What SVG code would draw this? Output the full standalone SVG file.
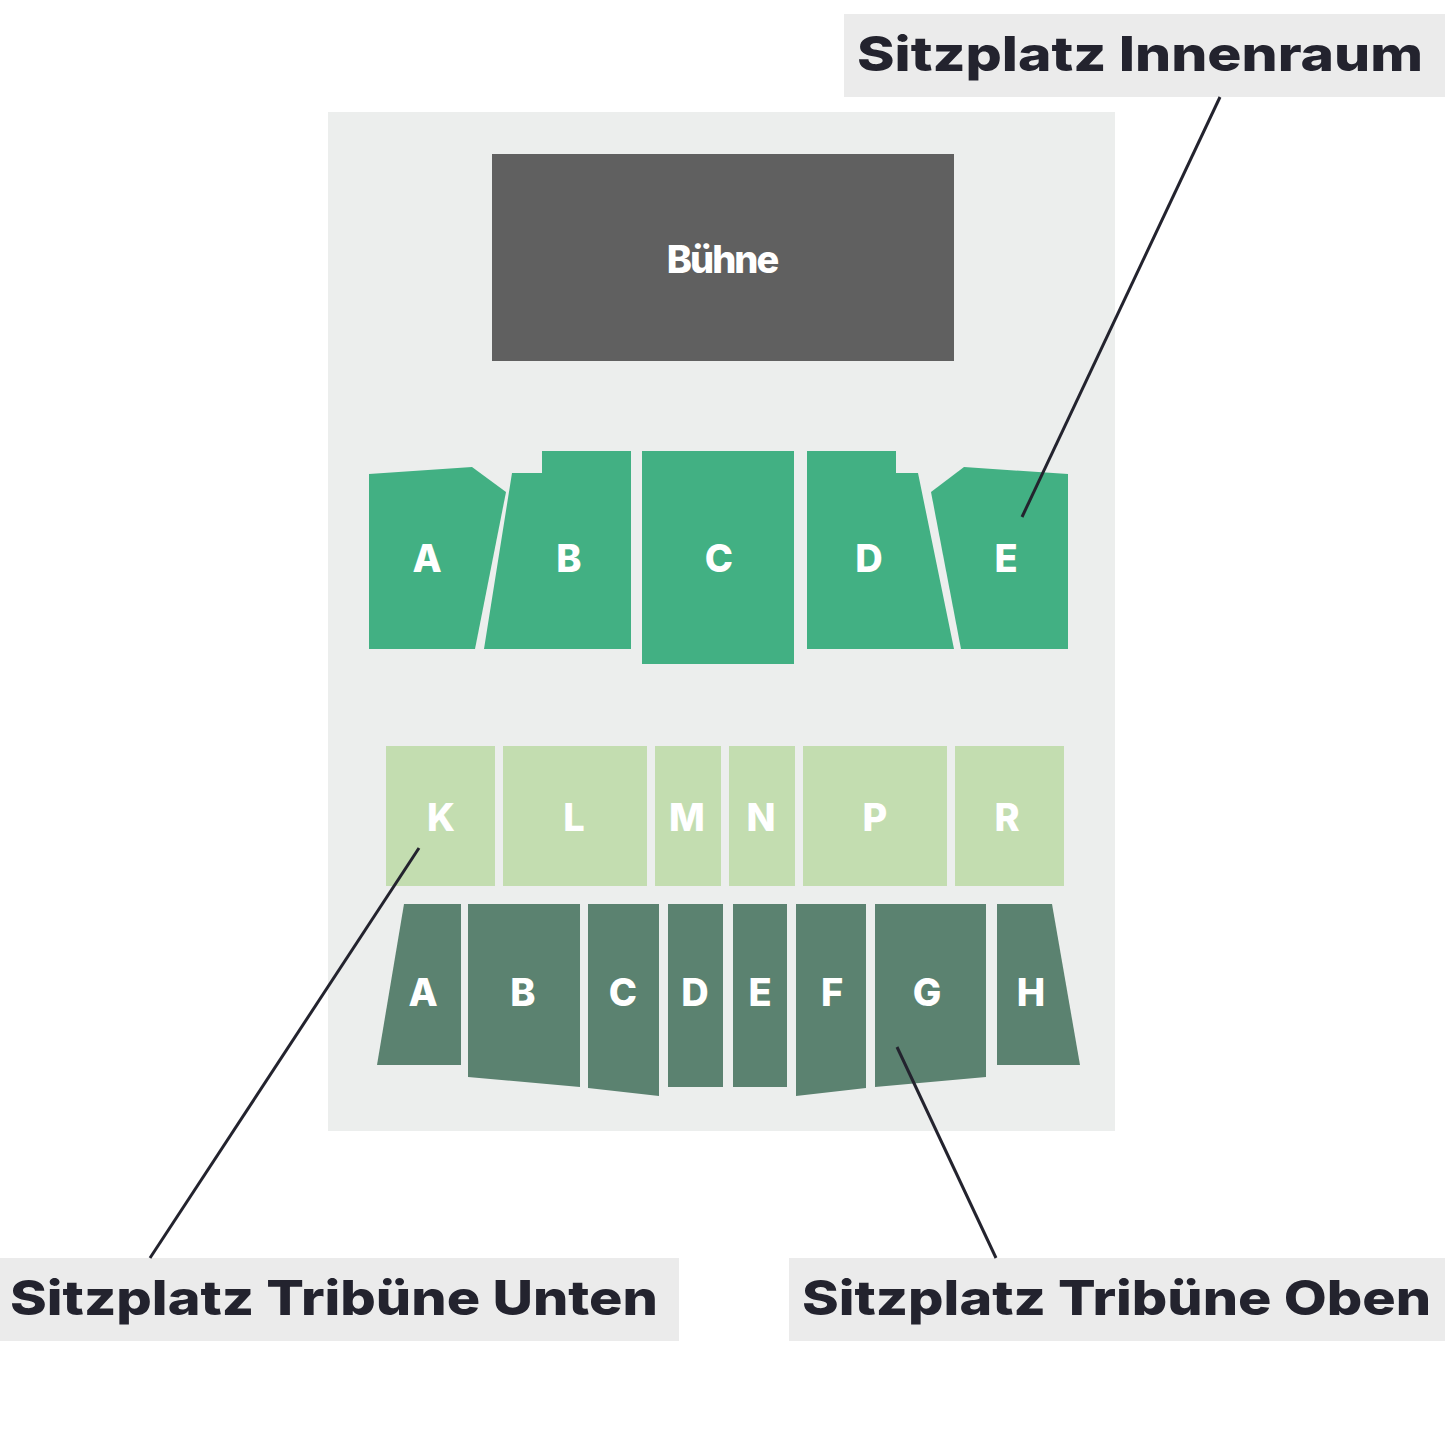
<svg xmlns="http://www.w3.org/2000/svg" width="1445" height="1445" viewBox="0 0 1445 1445">
<style>
.t{fill:#42b083}.m{fill:#c3ddb0}.l{fill:#5b8270}
.s{font-family:Inter,"Liberation Sans",sans-serif;font-weight:800;fill:#fff;font-size:38px;text-anchor:middle}
.lb{font-family:Inter,"Liberation Sans",sans-serif;font-weight:800;fill:#23232e;font-size:48px}
.box{fill:#ebebeb}
.c{stroke:#23232e;stroke-width:3;fill:none}
</style>
<rect x="0" y="0" width="1445" height="1445" fill="#fff"/>
<rect x="328" y="112" width="787" height="1019" fill="#eceeed"/>
<g id="stage"><rect x="492" y="154" width="462" height="207" fill="#606060"/><text x="722" y="273" class="s" font-size="52" letter-spacing="-2">Bühne</text></g>
<g id="innen">
<g id="iA"><polygon class="t" points="369,474 472,467 506,492 475,649 369,649"/><text class="s" x="427" y="572">A</text></g>
<g id="iB"><polygon class="t" points="484,649 512,473 542,473 542,451 631,451 631,649"/><text class="s" x="569" y="572">B</text></g>
<g id="iC"><rect class="t" x="642" y="451" width="152" height="213"/><text class="s" x="719" y="572">C</text></g>
<g id="iD"><polygon class="t" points="807,451 896,451 896,473 918,473 954,649 807,649"/><text class="s" x="869" y="572">D</text></g>
<g id="iE"><polygon class="t" points="931,492 964,467 1068,474 1068,649 961,649"/><text class="s" x="1006" y="572">E</text></g>
</g>
<g id="unten">
<g id="uK"><rect class="m" x="386" y="746" width="109" height="140"/><text class="s" x="441" y="831">K</text></g>
<g id="uL"><rect class="m" x="503" y="746" width="144" height="140"/><text class="s" x="574" y="831">L</text></g>
<g id="uM"><rect class="m" x="655" y="746" width="66" height="140"/><text class="s" x="687" y="831">M</text></g>
<g id="uN"><rect class="m" x="729" y="746" width="66" height="140"/><text class="s" x="761" y="831">N</text></g>
<g id="uP"><rect class="m" x="803" y="746" width="144" height="140"/><text class="s" x="875" y="831">P</text></g>
<g id="uR"><rect class="m" x="955" y="746" width="109" height="140"/><text class="s" x="1007" y="831">R</text></g>
</g>
<g id="oben">
<g id="oA"><polygon class="l" points="404,904 461,904 461,1065 377,1065"/><text class="s" x="423" y="1006">A</text></g>
<g id="oB"><polygon class="l" points="468,904 580,904 580,1087 468,1077"/><text class="s" x="523" y="1006">B</text></g>
<g id="oC"><polygon class="l" points="588,904 659,904 659,1096 588,1088"/><text class="s" x="623" y="1006">C</text></g>
<g id="oD"><rect class="l" x="668" y="904" width="55" height="183"/><text class="s" x="695" y="1006">D</text></g>
<g id="oE"><rect class="l" x="733" y="904" width="54" height="183"/><text class="s" x="760" y="1006">E</text></g>
<g id="oF"><polygon class="l" points="796,904 866,904 866,1088 796,1096"/><text class="s" x="832" y="1006">F</text></g>
<g id="oG"><polygon class="l" points="875,904 986,904 986,1077 875,1087"/><text class="s" x="927" y="1006">G</text></g>
<g id="oH"><polygon class="l" points="997,904 1052,904 1080,1065 997,1065"/><text class="s" x="1031" y="1006">H</text></g>
</g>
<g id="labels">
<g id="lInnen"><rect class="box" x="844" y="14" width="601" height="83"/><text class="lb" x="857" y="71" textLength="566" lengthAdjust="spacingAndGlyphs">Sitzplatz Innenraum</text></g>
<g id="lUnten"><rect class="box" x="0" y="1258" width="679" height="83"/><text class="lb" x="10" y="1315" textLength="648" lengthAdjust="spacingAndGlyphs">Sitzplatz Tribüne Unten</text></g>
<g id="lOben"><rect class="box" x="789" y="1258" width="656" height="83"/><text class="lb" x="802" y="1315" textLength="629" lengthAdjust="spacingAndGlyphs">Sitzplatz Tribüne Oben</text></g>
</g>
<g id="connectors">
<line class="c" x1="1220" y1="97" x2="1022" y2="517"/>
<line class="c" x1="150" y1="1258" x2="419" y2="848"/>
<line class="c" x1="996" y1="1258" x2="897" y2="1047"/>
</g>
</svg>
